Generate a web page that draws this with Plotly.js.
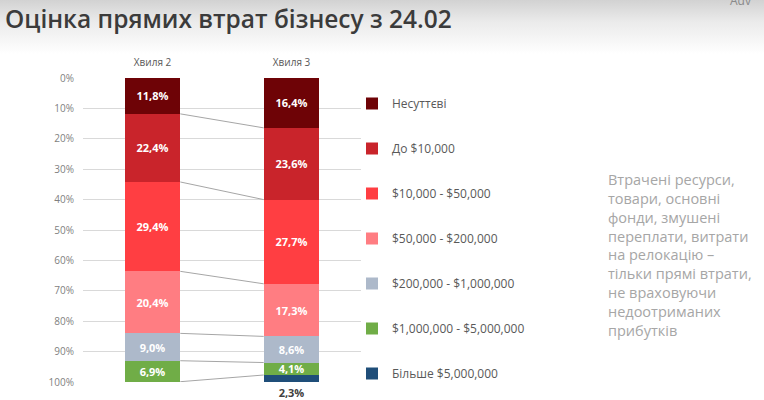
<!DOCTYPE html>
<html><head><meta charset="utf-8">
<script src="https://cdn.plot.ly/plotly-3.0.1.min.js"></script>
<style>
html,body{margin:0;padding:0;width:764px;height:400px;overflow:hidden;
background:linear-gradient(to bottom,#d2d2d2 0px,#ebebeb 22px,#ffffff 54px);}
#chart{width:764px;height:400px;}
</style></head><body><div id="chart"></div>
<script>
// ---- data ----
const waves = ['Хвиля 2', 'Хвиля 3'];
const seriesNames = ['Несуттєві', 'До $10,000', '$10,000 - $50,000', '$50,000 - $200,000',
  '$200,000 - $1,000,000', '$1,000,000 - $5,000,000', 'Більше $5,000,000'];
const notSignificant = [11.8, 16.4];
const upTo10k = [22.4, 23.6];
const from10kTo50k = [29.4, 27.7];
const from50kTo200k = [20.4, 17.3];
const from200kTo1m = [9.0, 8.6];
const from1mTo5m = [6.9, 4.1];
const over5m = [null, 2.3];
const yTickValues = [0, 10, 20, 30, 40, 50, 60, 70, 80, 90, 100];
const yTickLabels = ['0%', '10%', '20%', '30%', '40%', '50%', '60%', '70%', '80%', '90%', '100%'];
const noteText = 'Втрачені ресурси,<br>товари, основні<br>фонди, змушені<br>переплати, витрати<br>на релокацію –<br>тільки прямі втрати,<br>не враховуючи<br>недоотриманих<br>прибутків';

// ---- styling ----
const seriesValues = [notSignificant, upTo10k, from10kTo50k, from50kTo200k, from200kTo1m, from1mTo5m, over5m];
const colors = ['#6e0306', '#c9242b', '#ff3e42', '#ff7d82', '#adb9ca', '#70ad47', '#1f4e79'];
const barWidth = 0.4;
const font = 'Open Sans, Noto Sans, sans-serif';
const xIdx = waves.map((_, i) => i);
const itemStep = 45;      // px between legend items
const legendTop = 89;     // px from top
const splitAt = 4;        // first legend holds 4 items, second the rest

const traces = [];
seriesValues.forEach((vals, s) => {
  const last = s === seriesValues.length - 1;
  traces.push({
    type: 'bar', name: seriesNames[s], x: xIdx, y: vals, width: barWidth,
    marker: {color: colors[s], line: {width: 0}},
    legendgroup: 'g' + s,
    legend: s < splitAt ? 'legend' : 'legend2',
    texttemplate: '%{y:.1f}%',
    textposition: last ? 'outside' : 'inside',
    insidetextanchor: 'middle',
    constraintext: 'none',
    cliponaxis: false,
    textfont: {family: font, size: 11, color: last ? '#404040' : '#ffffff', weight: 'bold'},
    hoverinfo: 'skip'
  });
});

// connector lines between segment boundaries
const cum = waves.map(() => 0);
seriesValues.slice(0, -1).forEach((vals) => {
  vals.forEach((v, i) => { cum[i] += (v || 0); });
  traces.push({
    type: 'scatter', mode: 'lines', showlegend: false, hoverinfo: 'skip',
    x: [xIdx[0] + barWidth / 2, xIdx[1] - barWidth / 2],
    y: [cum[0], cum[1]],
    line: {color: '#a6a6a6', width: 1}
  });
});

const legendBase = {xref: 'container', yref: 'container', x: 352 / 764, xanchor: 'left',
  yanchor: 'top', traceorder: 'grouped', tracegroupgap: 26,
  font: {family: font, size: 12, color: '#595959'}, bgcolor: 'rgba(0,0,0,0)', itemwidth: 30};

const layout = {
  width: 764, height: 400,
  paper_bgcolor: 'rgba(0,0,0,0)', plot_bgcolor: 'rgba(0,0,0,0)',
  margin: {l: 83, r: 403, t: 78, b: 18, autoexpand: false},
  barmode: 'stack',
  separators: ', ',
  font: {family: font, color: '#595959'},
  title: {text: 'Оцінка прямих втрат бізнесу з 24.02', xref: 'container', yref: 'container',
    x: 5 / 764, xanchor: 'left', y: 1 - 19 / 400, yanchor: 'middle',
    font: {family: font, size: 24.5, color: '#3b3b3b', weight: 600}},
  xaxis: {type: 'linear', range: [-0.5, 1.5], tickvals: xIdx, ticktext: waves, side: 'top',
    showgrid: false, zeroline: false, showline: false, ticks: '', ticklabelstandoff: 9,
    tickfont: {family: font, size: 10, color: '#595959'}, fixedrange: true},
  yaxis: {range: [100, 0], tickmode: 'array', tickvals: yTickValues, ticktext: yTickLabels, showgrid: true,
    gridcolor: '#d9d9d9', gridwidth: 1, zeroline: false, showline: false, ticks: '',
    ticklabelstandoff: 8, tickfont: {family: font, size: 10, color: '#7f7f7f'}, fixedrange: true},
  showlegend: true,
  legend: Object.assign({}, legendBase, {y: 1 - legendTop / 400}),
  legend2: Object.assign({}, legendBase, {y: 1 - (legendTop + splitAt * itemStep) / 400}),
  annotations: [
    {text: noteText, xref: 'paper', yref: 'paper', x: (606 - 83) / 278, xanchor: 'left',
      y: (400 - 18 - 255) / 304, yanchor: 'middle', align: 'left', showarrow: false,
      font: {family: font, size: 14.5, color: '#a6a6a6'}},
    {text: 'Adv', xref: 'paper', yref: 'paper', x: (728 - 83) / 278, xanchor: 'left',
      y: (400 - 18 - 1) / 304, yanchor: 'middle', showarrow: false,
      font: {family: font, size: 12, color: '#8a8a8a'}}
  ]
};

Plotly.newPlot('chart', traces, layout, {displayModeBar: false, staticPlot: true});
</script></body></html>
